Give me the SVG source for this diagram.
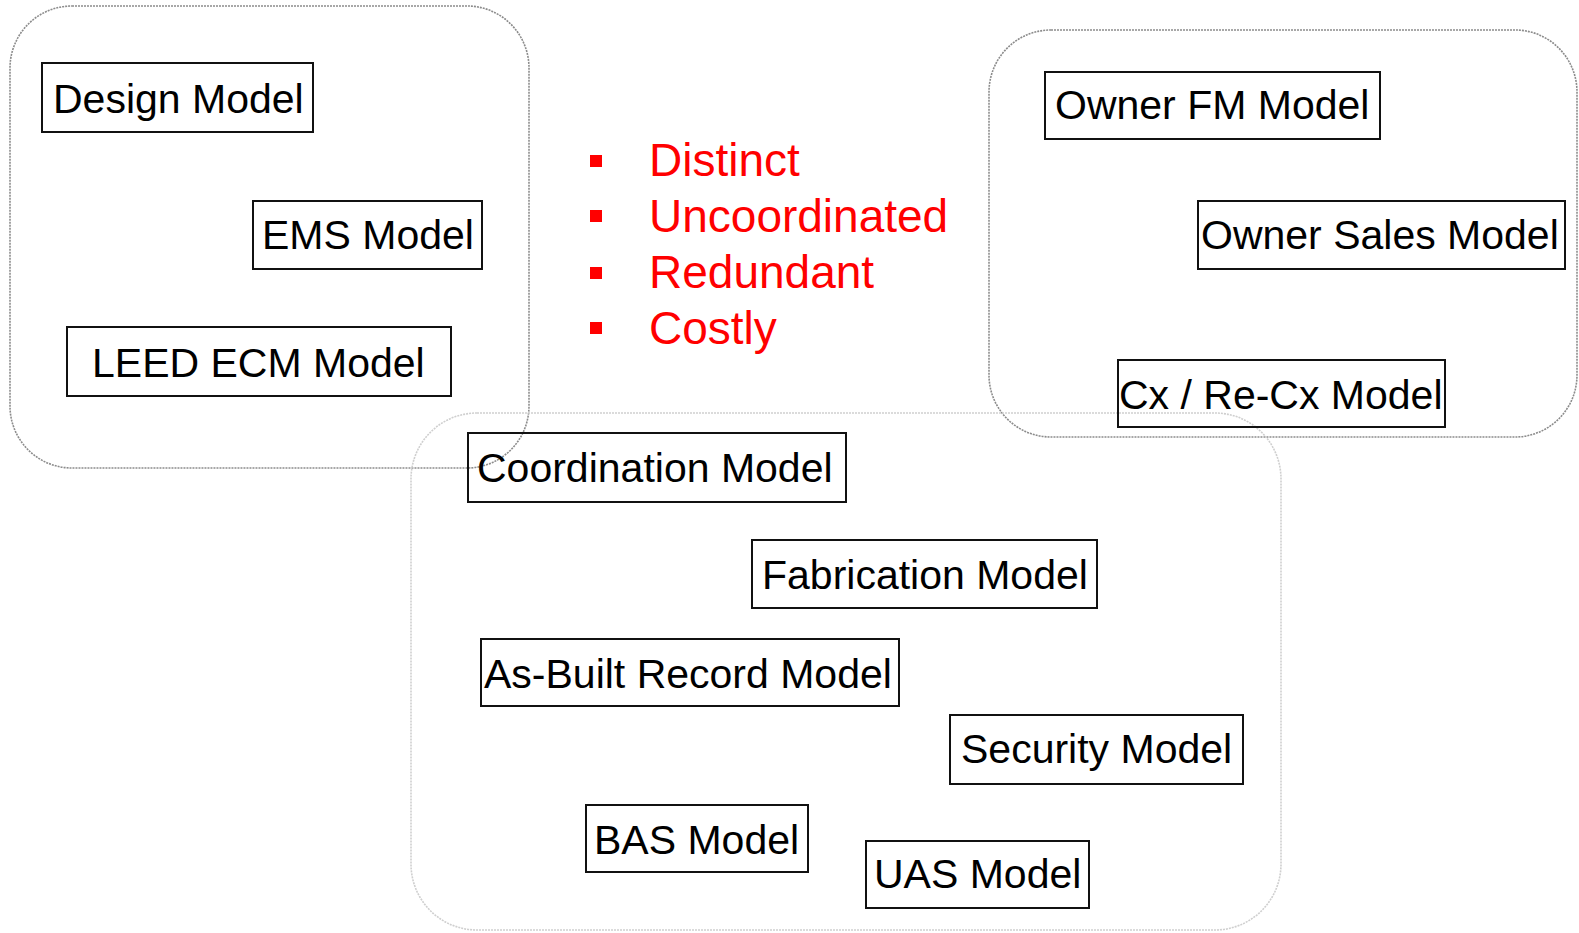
<svg xmlns="http://www.w3.org/2000/svg" width="1579" height="933" viewBox="0 0 1579 933">
<style>
.grp{fill:none;stroke:#8c8c8c;stroke-width:1.6;stroke-dasharray:2 1}
.grp2{fill:none;stroke:#cfcfcf;stroke-width:1.6;stroke-dasharray:2 1}
.box{fill:none;stroke:#111;stroke-width:2}
.lbl{font-family:"Liberation Sans",Arial,sans-serif;font-size:41px;fill:#000}
.red{font-family:"Liberation Sans",Arial,sans-serif;font-size:46px;fill:#ff0000}
.bul{fill:#ff0000}
</style>
<rect width="1579" height="933" fill="#fff"/>
<g id="group-design">
<rect class="grp" x="10" y="6" width="519" height="462" rx="62" ry="62"/>
</g>
<g id="group-owner">
<rect class="grp" x="989" y="30" width="588" height="407" rx="62" ry="62"/>
</g>
<g id="group-construction">
<rect class="grp2" x="411" y="413" width="870" height="517" rx="66" ry="66"/>
</g>
<g id="design-model"><rect class="box" x="42" y="63" width="271" height="69"/><text class="lbl" x="53" y="113">Design Model</text></g>
<g id="ems-model"><rect class="box" x="253" y="201" width="229" height="68"/><text class="lbl" x="262" y="249">EMS Model</text></g>
<g id="leed-ecm-model"><rect class="box" x="67" y="327" width="384" height="69"/><text class="lbl" x="92" y="377">LEED ECM Model</text></g>
<g id="owner-fm-model"><rect class="box" x="1045" y="72" width="335" height="67"/><text class="lbl" x="1055" y="119">Owner FM Model</text></g>
<g id="owner-sales-model"><rect class="box" x="1198" y="201" width="367" height="68"/><text class="lbl" x="1201" y="249">Owner Sales Model</text></g>
<g id="cx-model"><rect class="box" x="1118" y="360" width="327" height="67"/><text class="lbl" x="1119" y="409">Cx / Re-Cx Model</text></g>
<g id="coordination-model"><rect class="box" x="468" y="433" width="378" height="69"/><text class="lbl" x="477" y="482">Coordination Model</text></g>
<g id="fabrication-model"><rect class="box" x="752" y="540" width="345" height="68"/><text class="lbl" x="762" y="589">Fabrication Model</text></g>
<g id="as-built-model"><rect class="box" x="481" y="639" width="418" height="67"/><text class="lbl" x="484" y="688">As-Built Record Model</text></g>
<g id="security-model"><rect class="box" x="950" y="715" width="293" height="69"/><text class="lbl" x="961" y="763">Security Model</text></g>
<g id="bas-model"><rect class="box" x="586" y="805" width="222" height="67"/><text class="lbl" x="594" y="854">BAS Model</text></g>
<g id="uas-model"><rect class="box" x="866" y="841" width="223" height="67"/><text class="lbl" x="874" y="888">UAS Model</text></g>
<g id="bullets">
<rect class="bul" x="590" y="155" width="12" height="12"/><text class="red" x="649" y="176">Distinct</text>
<rect class="bul" x="590" y="210" width="12" height="12"/><text class="red" x="649" y="232">Uncoordinated</text>
<rect class="bul" x="590" y="267" width="12" height="12"/><text class="red" x="649" y="288">Redundant</text>
<rect class="bul" x="590" y="322" width="12" height="12"/><text class="red" x="649" y="344">Costly</text>
</g>
<g id="connectors"></g>
</svg>
